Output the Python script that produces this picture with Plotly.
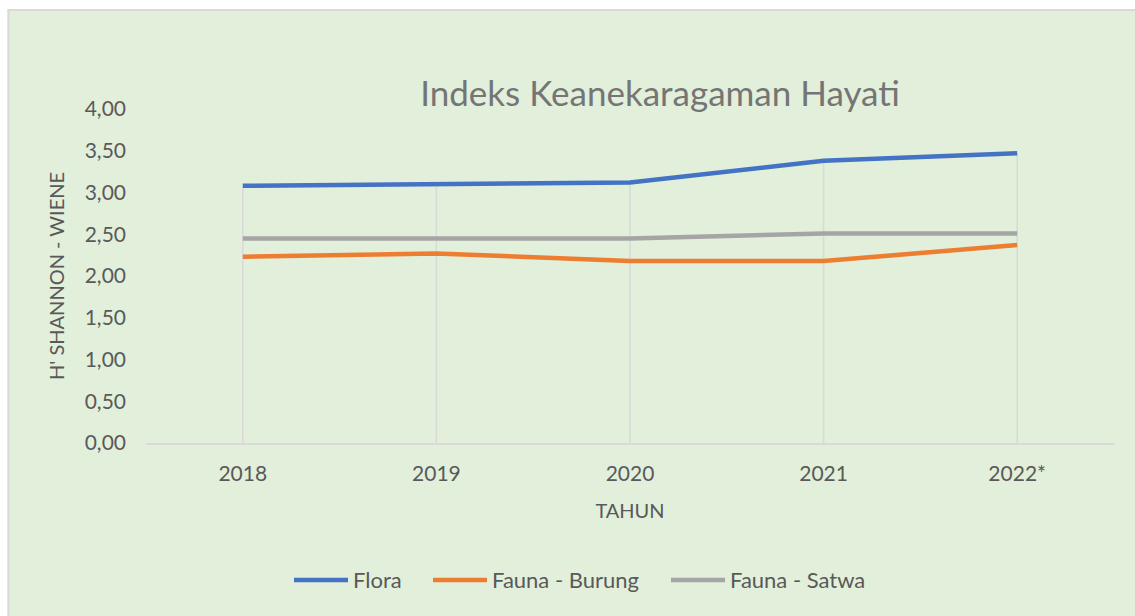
import plotly.graph_objects as go

years = ["2018", "2019", "2020", "2021", "2022*"]
flora = [3.08, 3.10, 3.12, 3.38, 3.47]
fauna_burung = [2.23, 2.27, 2.18, 2.18, 2.37]
fauna_satwa = [2.45, 2.45, 2.45, 2.51, 2.51]

series = [
    ("Flora", flora, "#4472C4"),
    ("Fauna - Burung", fauna_burung, "#ED7D31"),
    ("Fauna - Satwa", fauna_satwa, "#A5A5A5"),
]

W, H = 1135, 616
L, R, T, B = 146, 21, 109, 173
pw, ph = W - L - R, H - T - B

def px_x(p):
    return (p - L) / pw

def px_y(p):
    return (H - B - p) / ph

FONT = "Lato, 'Open Sans', sans-serif"
TXT = "#595959"
BG = "#E2EFDA"
GRID = "#D9D9D9"

fig = go.Figure()
for name, vals, col in series:
    fig.add_trace(go.Scatter(x=years, y=vals, name=name, mode="lines",
                             line=dict(color=col, width=4.5), showlegend=False))

shapes = []
annotations = []
# drop lines from axis to highest point of each category
for i, yr in enumerate(years):
    top = max(s[1][i] for s in series)
    shapes.append(dict(type="line", xref="x", yref="y", x0=i, x1=i, y0=0, y1=top,
                       line=dict(color=GRID, width=1.5), layer="below"))
# white outer margin (top and left) and chart frame border
shapes.append(dict(type="rect", xref="paper", yref="paper", x0=px_x(-5), x1=px_x(W + 5),
                   y0=px_y(9), y1=px_y(-5), fillcolor="white", line=dict(width=0), layer="below"))
shapes.append(dict(type="rect", xref="paper", yref="paper", x0=px_x(-5), x1=px_x(7.5),
                   y0=px_y(H + 5), y1=px_y(-5), fillcolor="white", line=dict(width=0), layer="below"))
shapes.append(dict(type="line", xref="paper", yref="paper", x0=px_x(7.5), x1=px_x(W + 5),
                   y0=px_y(10), y1=px_y(10), line=dict(color=GRID, width=2), layer="below"))
shapes.append(dict(type="line", xref="paper", yref="paper", x0=px_x(8.5), x1=px_x(8.5),
                   y0=px_y(H + 5), y1=px_y(10), line=dict(color=GRID, width=2), layer="below"))

# legend (drawn as line samples + labels)
legend_x = [294, 433, 671]
LEG_Y = 580
for (name, vals, col), lx in zip(series, legend_x):
    shapes.append(dict(type="line", xref="paper", yref="paper", x0=px_x(lx), x1=px_x(lx + 54),
                       y0=px_y(LEG_Y), y1=px_y(LEG_Y), line=dict(color=col, width=4.5)))
    annotations.append(dict(text=name, xref="paper", yref="paper", x=px_x(lx + 57), y=px_y(LEG_Y - 1),
                            xanchor="left", yanchor="middle", showarrow=False,
                            font=dict(family=FONT, size=22, color=TXT)))

fig.update_layout(
    width=W, height=H,
    margin=dict(l=L, r=R, t=T, b=B),
    paper_bgcolor=BG, plot_bgcolor=BG,
    separators=",.",
    font=dict(family=FONT, color=TXT, size=20),
    title=dict(text="Indeks Keanekaragaman Hayati", x=px_x(660), xref="paper", xanchor="center",
               y=1 - 94 / H, yref="container", yanchor="middle",
               font=dict(family=FONT, size=35, color="#757575")),
    shapes=shapes,
    annotations=annotations,
    showlegend=False,
    xaxis=dict(type="category", range=[-0.5, len(years) - 0.5], showgrid=False,
               showline=True, linecolor=GRID, linewidth=2, ticks="",
               tickfont=dict(size=21, color=TXT), ticklabelstandoff=11,
               title=dict(text="TAHUN", font=dict(size=20, color=TXT), standoff=20),
               zeroline=False, fixedrange=True),
    yaxis=dict(range=[0, 4], dtick=0.5, tickformat=".2f", showgrid=False, showline=False,
               zeroline=False, ticks="", tickfont=dict(size=21, color=TXT),
               ticklabelstandoff=19,
               title=dict(text="H' SHANNON - WIENE", font=dict(size=20, color=TXT), standoff=14),
               fixedrange=True),
)

fig.write_html("out.html")
